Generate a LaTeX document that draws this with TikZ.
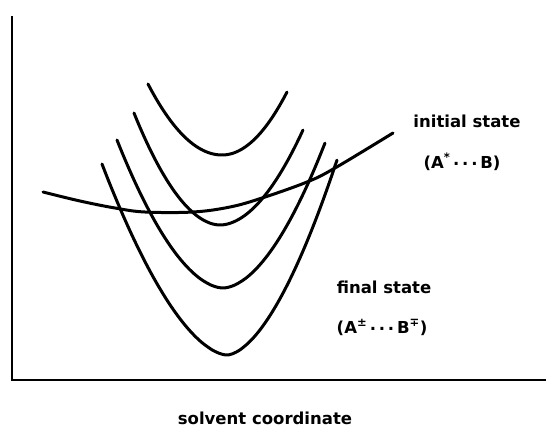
\documentclass[tikz,border=0pt]{standalone}
\usepackage{fontspec}
\newfontfamily\lblfont{DejaVu Sans}
\newcommand\ucurve[7]{%
  \draw[curve] plot[domain=-1:1, samples=60, smooth, variable=\t]
    ({#3 + (\t<0 ? \t*(#3-#1) : \t*(#5-#3))},
     {#4 - (\t<0 ? (#4-#2) : (#4-#6))*pow(abs(\t),#7)});}
\newcommand\dts{\,\raisebox{0.18em}{.}\,\raisebox{0.18em}{.}\,\raisebox{0.18em}{.}\,}
\begin{document}
\begin{tikzpicture}[x=1pt,y=-1pt,
  curve/.style={line width=3pt, line cap=round, line join=round},
  axis/.style={line width=2.8pt, line cap=rect},
  lbl/.style={font=\lblfont\bfseries\fontsize{16.5}{19}\selectfont, inner sep=0pt, anchor=base}]
\useasboundingbox (0,0) rectangle (546,429);
% axes
\coordinate (ytop) at (12,17);
\coordinate (orig) at (12,380);
\coordinate (xend) at (545,380);
\draw[axis] (ytop) -- (orig) -- (xend);
% final state curves
\ucurve{148}{84}{222}{155}{287}{92}{2.0}
\ucurve{134}{113}{220}{225}{303}{130}{1.9}
\ucurve{117}{140}{223}{288}{325}{143}{1.8}
\ucurve{102}{164}{227}{355}{337}{160}{1.7}
% initial state curve
\draw[curve] plot[smooth, tension=0.6] coordinates {(43,192) (80,201) (115,208) (145,212) (193,212) (230,207) (262,198) (307,182) (335,168) (393,133)};
% labels
\node[lbl] (init) at (467,127) {initial state};
\node[lbl] (initf) at (462,168) {(A\textsuperscript{*}\dts B)};
\node[lbl] (fin) at (384,293) {final state};
\node[lbl] (finf) at (382,333) {(A\textsuperscript{±}\dts B\textsuperscript{∓})};
\node[lbl] (xlab) at (265,424) {solvent coordinate};
\end{tikzpicture}
\end{document}
